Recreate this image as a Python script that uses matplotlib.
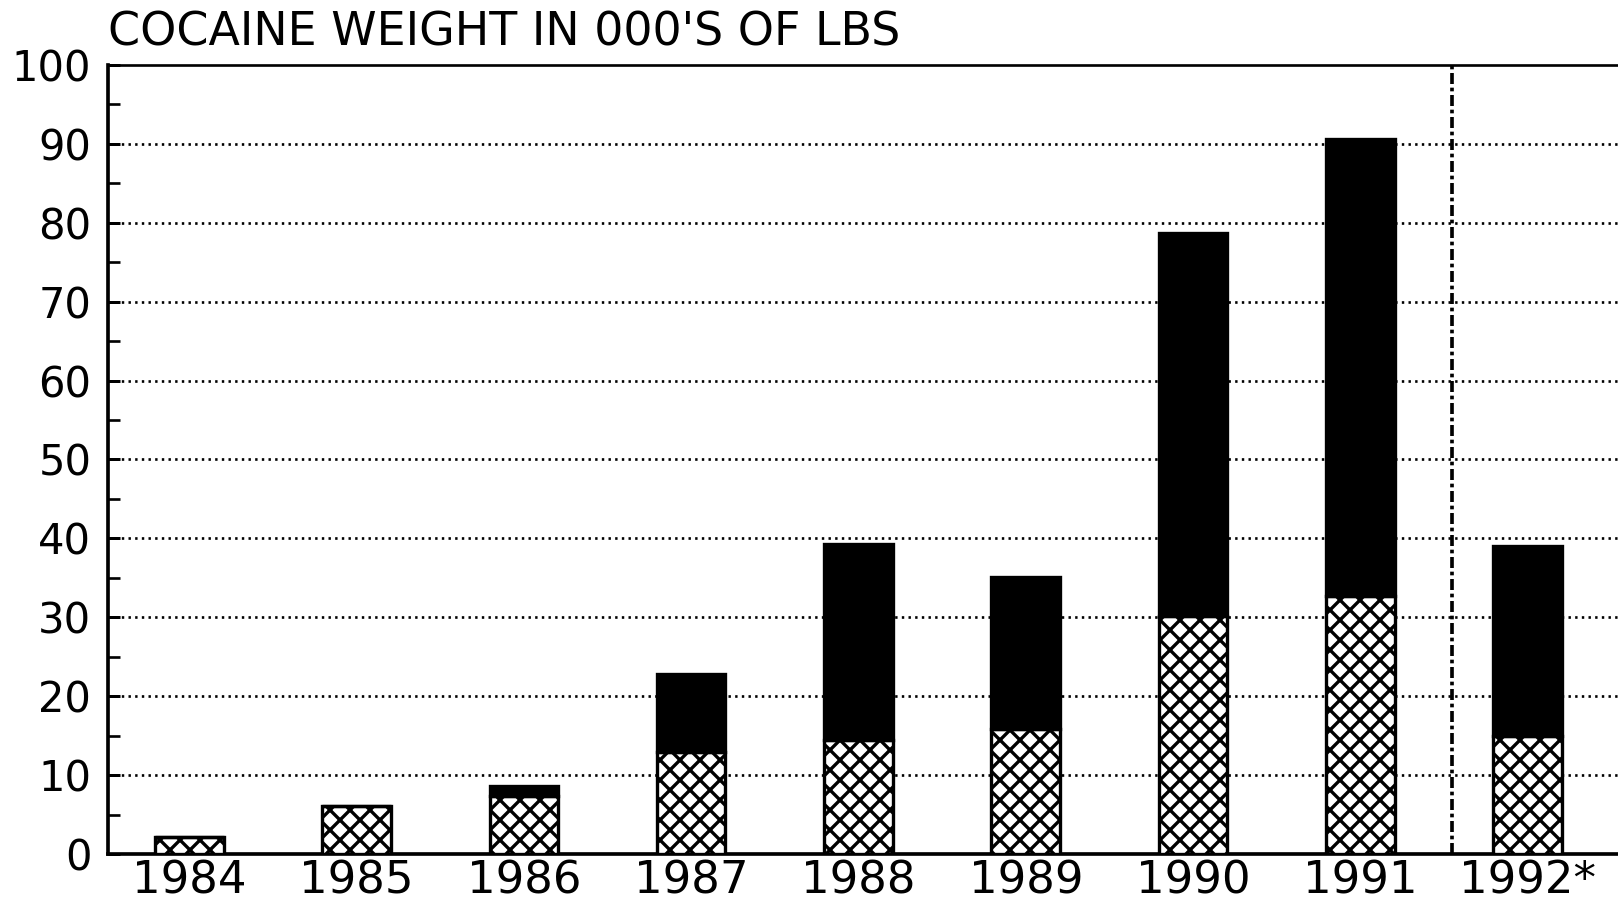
import numpy as np
import matplotlib
matplotlib.use("Agg")
import matplotlib.pyplot as plt
from matplotlib.ticker import MultipleLocator

# cocaine seizures, thousands of lbs
years = ['1984', '1985', '1986', '1987', '1988', '1989', '1990', '1991', '1992*']
hatched_part = [2.2, 6.1, 7.4, 12.9, 14.5, 15.8, 30.2, 32.7, 15.0]
solid_part = [0.0, 0.0, 1.2, 9.9, 24.8, 19.3, 48.5, 57.9, 24.1]
y_ticks = [0, 10, 20, 30, 40, 50, 60, 70, 80, 90, 100]

plt.rcParams['font.family'] = ['DejaVu Sans']
plt.rcParams['hatch.linewidth'] = 2.0

DPI = 120
fig = plt.figure(figsize=(1618 / DPI, 904 / DPI), dpi=DPI)
ax = fig.add_axes([108 / 1618, 50 / 904, 1 - 108 / 1618, 789 / 904])

x = np.arange(len(years))
w = 0.41
ax.bar(x, hatched_part, width=w, color='white', edgecolor='black',
       hatch='xx', linewidth=2.0, zorder=3)
ax.bar(x, solid_part, width=w, bottom=hatched_part, color='black',
       edgecolor='black', linewidth=2.0, zorder=3)

# dotted grid behind the bars
for v in y_ticks[1:-1]:
    ax.axhline(v, color='black', linestyle=(0, (0.9, 1.6)), linewidth=1.6, zorder=1)

# dash-dot separator before the partial year
ax.axvline(7.55, color='black', linestyle=(0, (3, 1, 1, 1)), linewidth=2.2, zorder=2)

ax.set_xlim(-0.486, 8.54)
ax.set_ylim(0, 100)
ax.set_xticks(x)
ax.set_xticklabels(years, fontsize=27)
ax.set_yticks(y_ticks)
ax.set_yticklabels([str(v) for v in y_ticks], fontsize=25)
ax.yaxis.set_minor_locator(MultipleLocator(5))
ax.tick_params(axis='x', length=0, pad=3)
ax.tick_params(axis='y', which='major', direction='in', length=7, width=1.8, pad=10)
ax.tick_params(axis='y', which='minor', direction='in', length=7, width=1.6)

for side in ['left', 'bottom']:
    ax.spines[side].set_linewidth(2.2)
ax.spines['top'].set_linewidth(1.6)
ax.spines['right'].set_visible(False)

fig.text(108 / 1618, 1 - 46 / 904, "COCAINE WEIGHT IN 000'S OF LBS",
         fontsize=27.5, ha='left', va='baseline')

fig.savefig('out.png', dpi=DPI)
